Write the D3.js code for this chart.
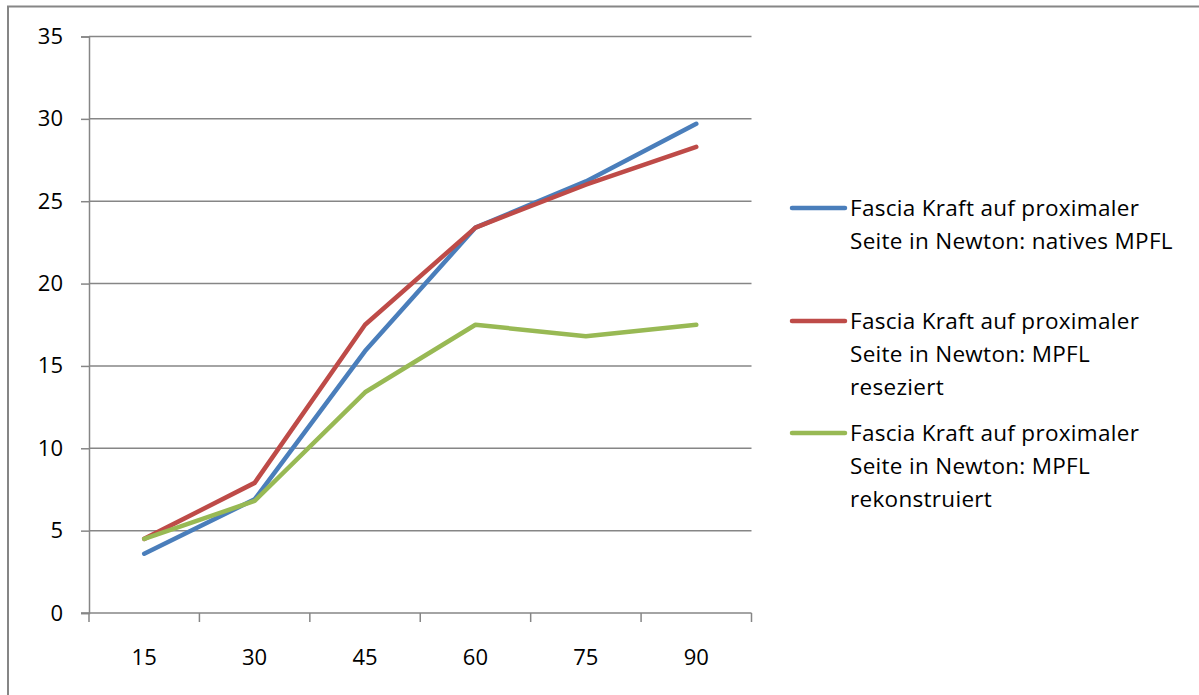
<!DOCTYPE html>
<html>
<head>
<meta charset="utf-8">
<script src="https://cdn.jsdelivr.net/npm/d3@7/dist/d3.min.js"></script>
<style>
  html, body { margin: 0; padding: 0; background: #fff; }
  svg { display: block; }
  text { font-family: "Open Sans", sans-serif; fill: #000; }
</style>
</head>
<body>
<svg id="chart" width="1199" height="695"></svg>
<script>
// Angle categories (x axis)
const categories = ["15", "30", "45", "60", "75", "90"];

// Fascia force on the proximal side, in Newton
const nativesValues = [3.6, 6.9, 15.9, 23.4, 26.2, 29.7];
const resezierValues = [4.5, 7.9, 17.5, 23.4, 26.0, 28.3];
const rekonstruiertValues = [4.5, 6.8, 13.4, 17.5, 16.8, 17.5];

const yTicks = [0, 5, 10, 15, 20, 25, 30, 35];

const seriesNames = [
  ["Fascia Kraft auf proximaler", "Seite in Newton: natives MPFL"],
  ["Fascia Kraft auf proximaler", "Seite in Newton: MPFL", "reseziert"],
  ["Fascia Kraft auf proximaler", "Seite in Newton: MPFL", "rekonstruiert"]
];
const seriesColors = ["#4a7ebb", "#be4b48", "#98b954"];
const seriesValues = [nativesValues, resezierValues, rekonstruiertValues];

const tickFontSize = 22;
const legendFontSize = 22.5;
const svg = d3.select("#chart");

// chart frame (right and bottom edges run past the visible area)
svg.append("rect")
  .attr("x", 8).attr("y", 6.5)
  .attr("width", 1300).attr("height", 800)
  .attr("fill", "none")
  .attr("stroke", "#868686")
  .attr("stroke-width", 2);

const plot = { left: 89, right: 751.5, top: 36.5, bottom: 613 };

const x = d3.scaleBand()
  .domain(categories)
  .range([plot.left, plot.right])
  .paddingInner(0).paddingOuter(0);

const y = d3.scaleLinear()
  .domain([0, 35])
  .range([plot.bottom, plot.top]);

// y axis ticks and labels
const yAxis = d3.axisLeft(y)
  .tickValues(yTicks)
  .tickSize(8)
  .tickPadding(18)
  .tickFormat(d3.format("d"));

const yG = svg.append("g")
  .attr("transform", `translate(${plot.left},0)`)
  .call(yAxis);
yG.select(".domain").attr("stroke", "#868686").attr("stroke-width", 1.5);
yG.selectAll(".tick line").attr("stroke", "#868686").attr("stroke-width", 1.5);
yG.selectAll(".tick text").attr("font-size", tickFontSize).attr("fill", "#000")
  .style("font-family", "'Open Sans', sans-serif");

// horizontal gridlines
svg.append("g")
  .selectAll("line")
  .data(yTicks.filter(d => d > 0))
  .join("line")
  .attr("x1", plot.left).attr("x2", plot.right)
  .attr("y1", d => y(d)).attr("y2", d => y(d))
  .attr("stroke", "#868686")
  .attr("stroke-width", 1.5);

// x axis with ticks at band boundaries
const xG = svg.append("g")
  .attr("transform", `translate(0,${plot.bottom})`);
xG.append("line")
  .attr("x1", plot.left - 8).attr("x2", plot.right)
  .attr("stroke", "#868686").attr("stroke-width", 1.5);
const boundaries = categories.map(c => x(c)).concat([x(categories[categories.length - 1]) + x.bandwidth()]);
xG.selectAll("line.tick")
  .data(boundaries)
  .join("line")
  .attr("class", "tick")
  .attr("x1", d => d).attr("x2", d => d)
  .attr("y1", 0).attr("y2", 9)
  .attr("stroke", "#868686").attr("stroke-width", 1.5);
xG.selectAll("text")
  .data(categories)
  .join("text")
  .attr("x", d => x(d) + x.bandwidth() / 2)
  .attr("y", 44)
  .attr("dy", "0.35em")
  .attr("text-anchor", "middle")
  .attr("font-size", tickFontSize)
  .text(d => d);

// series lines
const line = d3.line()
  .x((d, i) => x(categories[i]) + x.bandwidth() / 2)
  .y(d => y(d));

svg.append("g")
  .selectAll("path")
  .data(seriesValues)
  .join("path")
  .attr("d", d => line(d))
  .attr("fill", "none")
  .attr("stroke", (d, i) => seriesColors[i])
  .attr("stroke-width", 4.5)
  .attr("stroke-linecap", "round")
  .attr("stroke-linejoin", "round");

// legend
const legendY = [208, 321, 433];
const legendLineHeight = 33;
const legend = svg.append("g");
seriesNames.forEach((lines, i) => {
  const g = legend.append("g");
  g.append("line")
    .attr("x1", 792).attr("x2", 845)
    .attr("y1", legendY[i]).attr("y2", legendY[i])
    .attr("stroke", seriesColors[i])
    .attr("stroke-width", 4.5)
    .attr("stroke-linecap", "round");
  g.selectAll("text")
    .data(lines)
    .join("text")
    .attr("x", 850)
    .attr("y", (d, j) => legendY[i] + j * legendLineHeight)
    .attr("dy", "0.35em")
    .attr("font-size", legendFontSize)
    .attr("letter-spacing", 0.3)
    .text(d => d);
});
</script>
</body>
</html>
